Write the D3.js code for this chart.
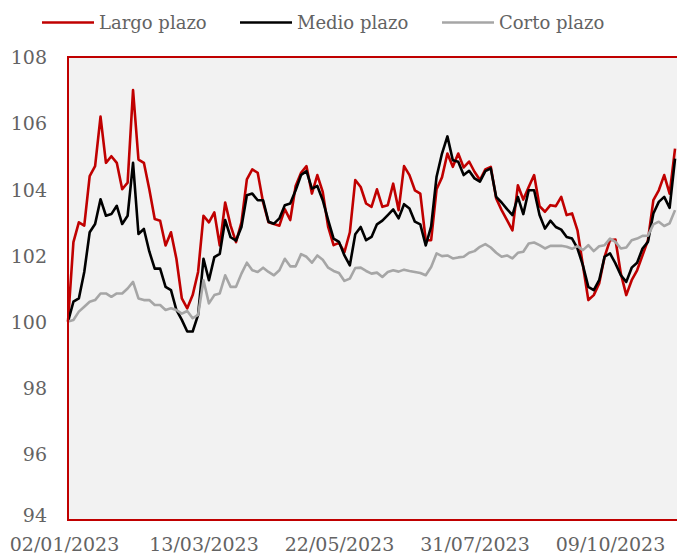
<!DOCTYPE html>
<html>
<head>
<meta charset="utf-8">
<script src="https://cdn.jsdelivr.net/npm/d3@7"></script>
<style>
    html, body { margin: 0; padding: 0; background: #ffffff; }
</style>
</head>
<body>
<div id="chart"></div>
<script>
// series names
var seriesNames = ['Largo plazo', 'Medio plazo', 'Corto plazo'];

// tick labels of the x axis
var tickLabels = ['02/01/2023', '13/03/2023', '22/05/2023', '31/07/2023', '09/10/2023'];
var yTicks = [94, 96, 98, 100, 102, 104, 106, 108];

// values read every 2 business days from 02/01/2023
var largo = [100.0, 102.4, 103.0, 102.9, 104.4, 104.7, 106.2, 104.8, 105.0, 104.8,
    104.0, 104.2, 107.0, 104.9, 104.8, 104.0, 103.1, 103.05, 102.3, 102.7,
    101.9, 100.7, 100.4, 100.8, 101.5, 103.2, 103.0, 103.3, 102.3, 103.6,
    102.9, 102.4, 103.0, 104.3, 104.6, 104.5, 103.6, 103.0, 102.95, 102.9,
    103.4, 103.07, 104.1, 104.5, 104.7, 103.87, 104.43, 103.92, 102.86, 102.31,
    102.38, 102.1, 102.7, 104.28, 104.07, 103.57, 103.47, 104.0, 103.47, 103.52,
    104.17, 103.37, 104.7, 104.43, 103.97, 103.87, 102.46, 102.46, 104.0, 104.36,
    105.08, 104.68, 105.08, 104.66, 104.84, 104.53, 104.28, 104.6, 104.68, 103.72,
    103.37, 103.07, 102.76, 104.12, 103.69, 104.07, 104.43, 103.49, 103.32, 103.52,
    103.49, 103.77, 103.22, 103.27, 102.76, 101.7, 100.65, 100.8, 101.15, 101.96,
    102.46, 102.48, 101.45, 100.8, 101.25, 101.55, 102.0, 102.46, 103.67, 103.97,
    104.43, 103.87, 105.23];

var medio = [100.0, 100.6, 100.7, 101.5, 102.7, 102.95, 103.7, 103.2, 103.25, 103.5,
    102.95, 103.2, 104.8, 102.65, 102.8, 102.12, 101.6, 101.6, 101.05, 100.95,
    100.35, 100.05, 99.7, 99.7, 100.2, 101.9, 101.25, 101.95, 102.05, 103.07,
    102.55, 102.45, 102.86, 103.82, 103.87, 103.67, 103.67, 103.02, 102.96, 103.12,
    103.52, 103.57, 103.97, 104.43, 104.55, 104.02, 104.1, 103.67, 103.07, 102.51,
    102.41, 102.0, 101.7, 102.64, 102.86, 102.46, 102.56, 102.94, 103.05, 103.22,
    103.39, 103.12, 103.55, 103.42, 103.02, 102.94, 102.3, 102.88, 104.38, 105.08,
    105.6, 104.88, 104.83, 104.43, 104.56, 104.33, 104.23, 104.55, 104.63, 103.77,
    103.6, 103.4, 103.22, 103.77, 103.25, 103.97, 103.97, 103.22, 102.81, 103.05,
    102.86, 102.78, 102.56, 102.51, 102.21, 101.7, 101.05, 100.95, 101.25, 101.96,
    102.06, 101.76, 101.4, 101.2, 101.63, 101.78, 102.21, 102.41, 103.27, 103.62,
    103.77, 103.44, 104.93];

var corto = [100.0, 100.05, 100.3, 100.45, 100.6, 100.65, 100.85, 100.85, 100.75, 100.85,
    100.85, 101.0, 101.2, 100.7, 100.65, 100.65, 100.5, 100.5, 100.35, 100.4,
    100.35, 100.24, 100.32, 100.1, 100.2, 101.25, 100.55, 100.8, 100.85, 101.4,
    101.05, 101.05, 101.45, 101.78, 101.55, 101.5, 101.63, 101.5, 101.4, 101.55,
    101.9, 101.67, 101.67, 102.04, 101.96, 101.78, 102.0, 101.87, 101.63, 101.53,
    101.47, 101.23, 101.3, 101.62, 101.63, 101.53, 101.45, 101.48, 101.35, 101.5,
    101.55, 101.51, 101.57, 101.53, 101.5, 101.47, 101.4, 101.65, 102.06, 101.98,
    102.0, 101.91, 101.94, 101.96, 102.08, 102.13, 102.26, 102.34, 102.24, 102.08,
    101.96, 102.0, 101.91, 102.08, 102.11, 102.36, 102.39, 102.31, 102.21, 102.29,
    102.29, 102.29, 102.26, 102.2, 102.28, 102.16, 102.31, 102.13, 102.28, 102.31,
    102.51, 102.41, 102.21, 102.24, 102.46, 102.51, 102.59, 102.6, 102.94, 103.02,
    102.89, 102.97, 103.37];

var colors = ['#c00000', '#000000', '#a6a6a6'];

!function () {
    var width = 677, height = 560;
    var left = 68, right = 677, top = 57, bottom = 520;
    var textColor = '#636363';
    var fontFamily = '"DejaVu Serif", serif';

    // fechas: business days from 02/01/2023, one every two
    var fechas = [];
    var d = new Date(2023, 0, 2), n = 0;
    while (fechas.length < largo.length) {
        if (d.getDay() !== 0 && d.getDay() !== 6) {
            if (n % 2 === 0) fechas.push(new Date(d));
            n++;
        }
        d = d3.timeDay.offset(d, 1);
    }
    var fmt = d3.timeFormat('%d/%m/%Y');

    var svg = d3.select('#chart').append('svg')
        .attr('width', width)
        .attr('height', height);

    var x = d3.scaleLinear()
        .domain([0, largo.length - 0.64])
        .range([left, right]);
    var y = d3.scaleLinear()
        .domain([94, 108])
        .range([bottom, top]);

    //plot background
    svg.append('rect')
        .attr('x', left)
        .attr('y', top)
        .attr('width', right - left + 4)
        .attr('height', bottom - top)
        .attr('fill', '#f2f2f2');

    //y axis labels
    var yAxis = d3.axisLeft(y).tickValues(yTicks).tickSize(0).tickPadding(0);
    var gy = svg.append('g')
        .attr('transform', 'translate(47,0)')
        .call(yAxis);
    gy.select('.domain').remove();
    gy.selectAll('text')
        .attr('fill', textColor)
        .attr('font-family', fontFamily)
        .attr('font-size', '19px')
        .attr('dy', '0.36em');
    // 94 sits a bit higher so it clears the date labels
    gy.selectAll('.tick').filter(function (v) { return v === 94; })
        .select('text').attr('dy', '0.1em');

    //x axis labels
    var tickIndex = tickLabels.map(function (t) {
        return fechas.findIndex(function (f) { return fmt(f) === t; });
    });
    var xAxis = d3.axisBottom(x).tickValues(tickIndex).tickSize(0).tickPadding(0)
        .tickFormat(function (i) { return fmt(fechas[i]); });
    var gx = svg.append('g')
        .attr('transform', 'translate(0,' + bottom + ')')
        .call(xAxis);
    gx.select('.domain').remove();
    gx.selectAll('text')
        .attr('fill', textColor)
        .attr('font-family', fontFamily)
        .attr('font-size', '19px')
        .attr('dy', 0)
        .attr('y', 31)
        .attr('x', function (i) { return i === 0 ? -4 : 0; });

    //lines
    var data = [largo, medio, corto];
    var line = d3.line()
        .x(function (v, i) { return x(i); })
        .y(function (v) { return y(v); });
    var gLines = svg.append('g');
    data.forEach(function (s, j) {
        gLines.append('path')
            .datum(s)
            .attr('fill', 'none')
            .attr('stroke', colors[j])
            .attr('stroke-width', 2.6)
            .attr('stroke-linejoin', 'round')
            .attr('d', line);
    });

    //plot border
    svg.append('rect')
        .attr('x', left)
        .attr('y', top)
        .attr('width', right - left + 4)
        .attr('height', bottom - top)
        .attr('fill', 'none')
        .attr('stroke', '#c00000')
        .attr('stroke-width', 2);

    //legend
    var legendX = [42, 240, 442];
    var gLegend = svg.append('g');
    seriesNames.forEach(function (name, j) {
        gLegend.append('line')
            .attr('x1', legendX[j])
            .attr('x2', legendX[j] + 52)
            .attr('y1', 22.5)
            .attr('y2', 22.5)
            .attr('stroke', colors[j])
            .attr('stroke-width', 2.6);
        gLegend.append('text')
            .attr('x', legendX[j] + 57)
            .attr('y', 28.5)
            .attr('fill', textColor)
            .attr('font-family', fontFamily)
            .attr('font-size', '18px')
            .text(name);
    });
}();
</script>
</body>
</html>
